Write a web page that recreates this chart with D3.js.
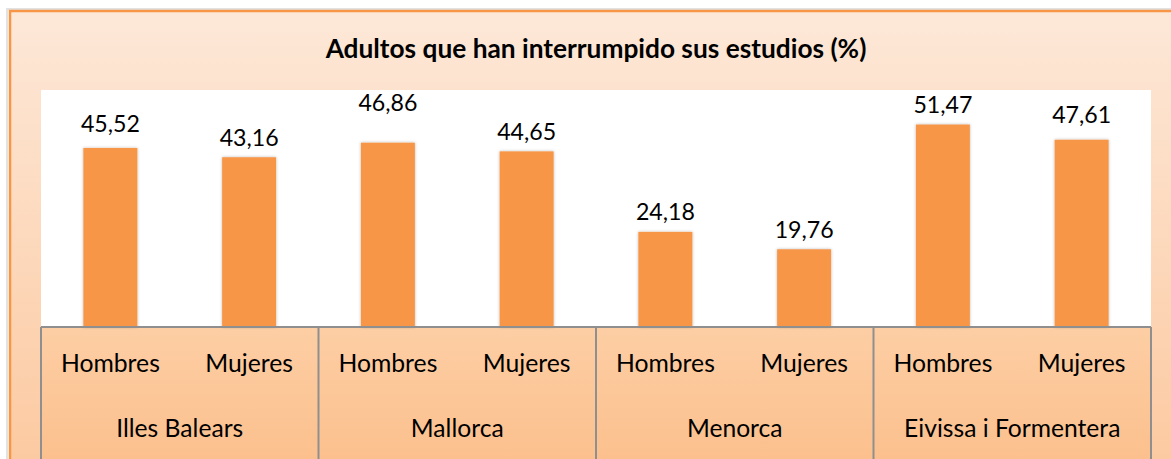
<!DOCTYPE html>
<html>
<head>
<meta charset="utf-8">
<script src="https://cdn.jsdelivr.net/npm/d3@7"></script>
<style>
  html, body { margin: 0; padding: 0; background: #ffffff; overflow: hidden; }
  svg { display: block; }
</style>
</head>
<body>
<svg id="chart" width="1171" height="459"></svg>
<script>
// ---- data ----
const title = "Adultos que han interrumpido sus estudios (%)";
const regions = ["Illes Balears", "Mallorca", "Menorca", "Eivissa i Formentera"];
const sexes = ["Hombres", "Mujeres"];
const hombres = [45.52, 46.86, 24.18, 51.47];
const mujeres = [43.16, 44.65, 19.76, 47.61];
const yTicks = [0, 10, 20, 30, 40, 50, 60];
// extra lift of individual value labels (hand-placed in original)
const labelNudgeH = [4, 20, 0, 0];
const labelNudgeM = [0, 0, 0, 5];

// ---- layout ----
const W = 1171, H = 459;
const plot = { left: 41, right: 1151, top: 91, bottom: 327 };
const FONT = "Lato, 'Open Sans', sans-serif";

const svg = d3.select("#chart");
const defs = svg.append("defs");

const gOuter = defs.append("linearGradient").attr("id", "gOuter")
  .attr("x1", 0).attr("y1", 0).attr("x2", 0).attr("y2", 1);
gOuter.append("stop").attr("offset", "0%").attr("stop-color", "#FDE8D8");
gOuter.append("stop").attr("offset", "100%").attr("stop-color", "#FCC89E");

const gAxis = defs.append("linearGradient").attr("id", "gAxis")
  .attr("x1", 0).attr("y1", 0).attr("x2", 0).attr("y2", 1);
gAxis.append("stop").attr("offset", "0%").attr("stop-color", "#FDCEA4");
gAxis.append("stop").attr("offset", "100%").attr("stop-color", "#FBBE8A");

const shadow = defs.append("filter").attr("id", "barShadow")
  .attr("x", "-30%").attr("y", "-30%").attr("width", "160%").attr("height", "160%");
shadow.append("feDropShadow").attr("dx", 0).attr("dy", 0)
  .attr("stdDeviation", 1.6).attr("flood-color", "#000").attr("flood-opacity", 0.28);

// outer frame
svg.append("rect").attr("x", 7).attr("y", 9).attr("width", W + 20).attr("height", H + 20)
  .attr("fill", "none").attr("stroke", "#cfcfcf").attr("stroke-width", 2).attr("opacity", 0.6);
svg.append("rect").attr("x", 10).attr("y", 11).attr("width", W + 20).attr("height", H + 20)
  .attr("fill", "url(#gOuter)").attr("stroke", "#F79646").attr("stroke-width", 2.5);

// plot area
svg.append("rect").attr("x", plot.left).attr("y", 90)
  .attr("width", plot.right - plot.left).attr("height", plot.bottom - 90)
  .attr("fill", "#ffffff");

// scales
const x0 = d3.scaleBand().domain(regions).range([plot.left, plot.right]).padding(0);
const x1 = d3.scaleBand().domain(sexes).range([0, x0.bandwidth()])
  .paddingInner(0.611).paddingOuter(0.3055);
const y = d3.scaleLinear().domain([yTicks[0], yTicks[yTicks.length - 1]])
  .range([plot.bottom, plot.top]);

const fmt = d3.formatLocale({ decimal: ",", thousands: ".", grouping: [3], currency: ["", "€"] }).format(".2f");

const rows = regions.map((r, i) => ({
  region: r,
  vals: [
    { sex: sexes[0], v: hombres[i], nudge: labelNudgeH[i] },
    { sex: sexes[1], v: mujeres[i], nudge: labelNudgeM[i] }
  ]
}));

// category axis table
const axisBottom = H + 20;
svg.append("rect").attr("x", plot.left).attr("y", plot.bottom)
  .attr("width", plot.right - plot.left).attr("height", axisBottom - plot.bottom)
  .attr("fill", "url(#gAxis)");

// bars
const groups = svg.append("g").selectAll("g").data(rows).join("g")
  .attr("transform", d => `translate(${x0(d.region)},0)`);

groups.selectAll("rect").data(d => d.vals).join("rect")
  .attr("x", d => x1(d.sex))
  .attr("y", d => y(d.v))
  .attr("width", x1.bandwidth())
  .attr("height", d => y(0) - y(d.v))
  .attr("fill", "#F79646")
  .attr("filter", "url(#barShadow)");

// value labels
const valLabels = groups.selectAll("text.val").data(d => d.vals).join("text")
  .attr("class", "val")
  .attr("x", d => x1(d.sex) + x1.bandwidth() / 2)
  .attr("y", d => y(d.v) - 11.5 - d.nudge)
  .attr("text-anchor", "middle")
  .attr("font-family", FONT)
  .attr("font-size", 22)
  .attr("fill", "#000")
  .text(d => fmt(d.v));

// axis lines
const lineColor = "#8f8f8f";
const axisG = svg.append("g");
axisG.append("line").attr("x1", plot.left).attr("x2", plot.right)
  .attr("y1", plot.bottom).attr("y2", plot.bottom)
  .attr("stroke", lineColor).attr("stroke-width", 2);
const bounds = regions.map(r => x0(r)).concat([x0.range()[1]]);
axisG.selectAll("line.v").data(bounds).join("line").attr("class", "v")
  .attr("x1", d => d).attr("x2", d => d)
  .attr("y1", plot.bottom).attr("y2", axisBottom)
  .attr("stroke", lineColor).attr("stroke-width", 2);

// sex labels
const sexLabels = groups.selectAll("text.sex").data(d => d.vals).join("text")
  .attr("class", "sex")
  .attr("x", d => x1(d.sex) + x1.bandwidth() / 2)
  .attr("y", 372)
  .attr("text-anchor", "middle")
  .attr("font-family", FONT)
  .attr("font-size", 22)
  .attr("fill", "#000")
  .text(d => d.sex);

// region labels
const regLabels = groups.append("text")
  .attr("class", "reg")
  .attr("x", x0.bandwidth() / 2)
  .attr("y", 437)
  .attr("text-anchor", "middle")
  .attr("font-family", FONT)
  .attr("font-size", 22)
  .attr("fill", "#000")
  .text(d => d.region);

// title
const titleText = svg.append("text")
  .attr("x", (plot.left + plot.right) / 2)
  .attr("y", 58)
  .attr("text-anchor", "middle")
  .attr("font-family", FONT)
  .attr("font-weight", "bold")
  .attr("font-size", 24)
  .attr("fill", "#000")
  .text(title);

// fit font sizes to measured widths in the original
function fit(sel, sample, target) {
  const node = sel.filter(function () { return this.textContent === sample; }).node();
  if (!node) return;
  const w = node.getComputedTextLength();
  const fs = parseFloat(sel.attr("font-size"));
  sel.attr("font-size", (fs * target / w).toFixed(2));
}
fit(sexLabels, "Hombres", 99);
fit(valLabels, "45,52", 59);
fit(regLabels, "Illes Balears", 127);
fit(titleText, title, 541);
</script>
</body>
</html>
